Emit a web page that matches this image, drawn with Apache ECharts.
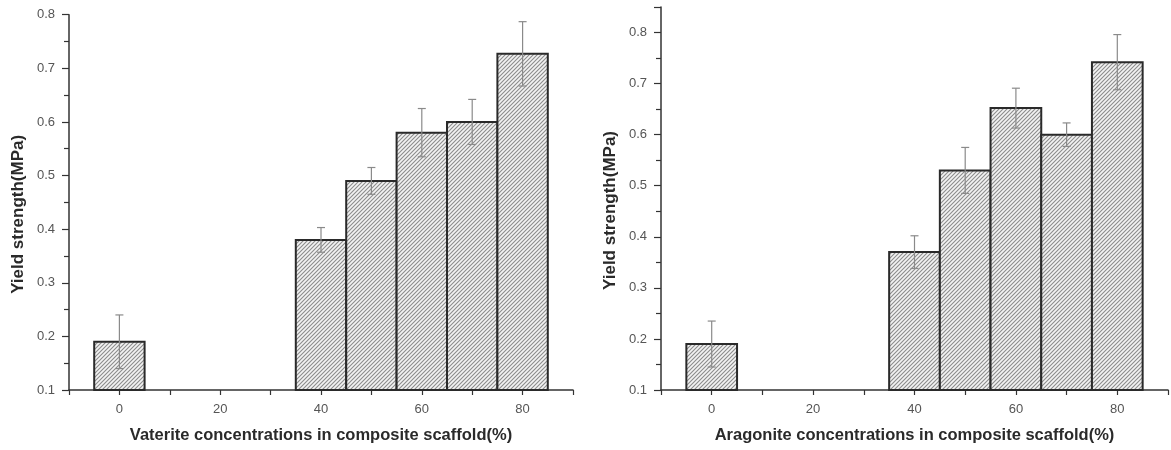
<!DOCTYPE html>
<html><head><meta charset="utf-8">
<script src="https://cdn.jsdelivr.net/npm/echarts@6/dist/echarts.min.js"></script>
<style>html,body{margin:0;padding:0;background:#fff}#c{width:1171px;height:450px}</style>
</head><body><div id="c"></div>
<script>
// Data
const concentrations = [0, 40, 50, 60, 70, 80];
const vateriteYield = [0.19, 0.38, 0.49, 0.58, 0.60, 0.727];
const vateriteErr   = [0.05, 0.023, 0.025, 0.045, 0.042, 0.06];
const aragoniteYield = [0.19, 0.37, 0.53, 0.652, 0.60, 0.742];
const aragoniteErr   = [0.045, 0.032, 0.045, 0.039, 0.023, 0.054];
const yTicks = [0.1, 0.2, 0.3, 0.4, 0.5, 0.6, 0.7, 0.8];
const xTicks = [0, 20, 40, 60, 80];
const leftXName = 'Vaterite concentrations in composite scaffold(%)';
const rightXName = 'Aragonite concentrations in composite scaffold(%)';
const yName = 'Yield strength(MPa)';
const barWidthUnits = 10;

// hatch pattern
const tile = document.createElement('canvas');
tile.width = 4; tile.height = 4;
const tc = tile.getContext('2d');
tc.fillStyle = '#f3f3f3'; tc.fillRect(0,0,4,4);
tc.strokeStyle = '#8c8c8c'; tc.lineWidth = 1.1;
tc.beginPath();
tc.moveTo(-1,5); tc.lineTo(5,-1);
tc.moveTo(-1,1); tc.lineTo(1,-1);
tc.moveTo(3,5); tc.lineTo(5,3);
tc.stroke();
const hatch = {image: tile, repeat: 'repeat'};

const chart = echarts.init(document.getElementById('c'));
const font = 'Arial, "Liberation Sans", sans-serif';

function xAxis(idx, name){
  return {
    type:'value', gridIndex: idx, min:-10, max:90, interval:10,
    name: name, nameLocation:'middle', nameGap: 37,
    nameTextStyle:{fontFamily:font, fontWeight:'bold', fontSize:16.5, color:'#2a2a2a'},
    axisLine:{onZero:false, lineStyle:{color:'#333', width:1.5}},
    axisTick:{show:true, length:5, lineStyle:{color:'#333', width:1.2}},
    splitLine:{show:false},
    axisLabel:{margin:13, fontFamily:font, fontSize:13, color:'#555',
      formatter: v => xTicks.some(k => Math.abs(k - v) < 1e-6) ? String(Math.round(v)) : ''}
  };
}
function yAxis(idx, max){
  return {
    type:'value', gridIndex: idx, min:0.1, max:max, interval:0.1,
    name: yName, nameLocation:'middle', nameGap: 42,
    nameTextStyle:{fontFamily:font, fontWeight:'bold', fontSize:17, color:'#2a2a2a', padding:[0,24,0,0]},
    axisLine:{show:true, onZero:false, lineStyle:{color:'#333', width:1.5}},
    axisTick:{show:true, length:7, lineStyle:{color:'#333', width:1.2}},
    minorTick:{show:true, splitNumber:2, length:5, lineStyle:{color:'#333', width:1.2}},
    splitLine:{show:false},
    axisLabel:{margin:14, fontFamily:font, fontSize:13, color:'#555',
      formatter: v => { const t = yTicks.find(k => Math.abs(k - v) < 1e-6); return t !== undefined ? t.toFixed(1) : ''; }}
  };
}

function barSeries(idx, vals){
  return {
    type:'custom', xAxisIndex: idx, yAxisIndex: idx,
    data: concentrations.map((c,i)=>[c, vals[i]]),
    renderItem: (params, api) => {
      const x = api.value(0), y = api.value(1);
      const p1 = api.coord([x - barWidthUnits/2, y]);
      const p2 = api.coord([x + barWidthUnits/2, 0.1]);
      return {type:'rect', shape:{x:p1[0], y:p1[1], width:p2[0]-p1[0], height:p2[1]-p1[1]},
        style:{fill: hatch, stroke:'#2a2a2a', lineWidth:2}};
    }, z: 2
  };
}
function errSeries(idx, vals, errs){
  return {
    type:'custom', xAxisIndex: idx, yAxisIndex: idx,
    data: concentrations.map((c,i)=>[c, vals[i]-errs[i], vals[i]+errs[i]]),
    renderItem: (params, api) => {
      const x = api.value(0);
      const lo = api.coord([x, api.value(1)]);
      const hi = api.coord([x, api.value(2)]);
      const w = 4;
      const st = {stroke:'#8a8a8a', lineWidth:1.2};
      return {type:'group', children:[
        {type:'line', shape:{x1:hi[0], y1:hi[1], x2:lo[0], y2:lo[1]}, style:st},
        {type:'line', shape:{x1:hi[0]-w, y1:hi[1], x2:hi[0]+w, y2:hi[1]}, style:st},
        {type:'line', shape:{x1:lo[0]-w, y1:lo[1], x2:lo[0]+w, y2:lo[1]}, style:st}
      ]};
    }, z: 3
  };
}

chart.setOption({
  animation:false,
  backgroundColor:'#ffffff',
  grid:[
    {left:69, right:598, top:14.7, bottom:60},
    {left:661, right:-4, top:7, bottom:60}
  ],
  xAxis:[xAxis(0, leftXName), xAxis(1, rightXName)],
  yAxis:[yAxis(0, 0.8), yAxis(1, 0.85)],
  series:[
    barSeries(0, vateriteYield), errSeries(0, vateriteYield, vateriteErr),
    barSeries(1, aragoniteYield), errSeries(1, aragoniteYield, aragoniteErr)
  ]
});
</script></body></html>
